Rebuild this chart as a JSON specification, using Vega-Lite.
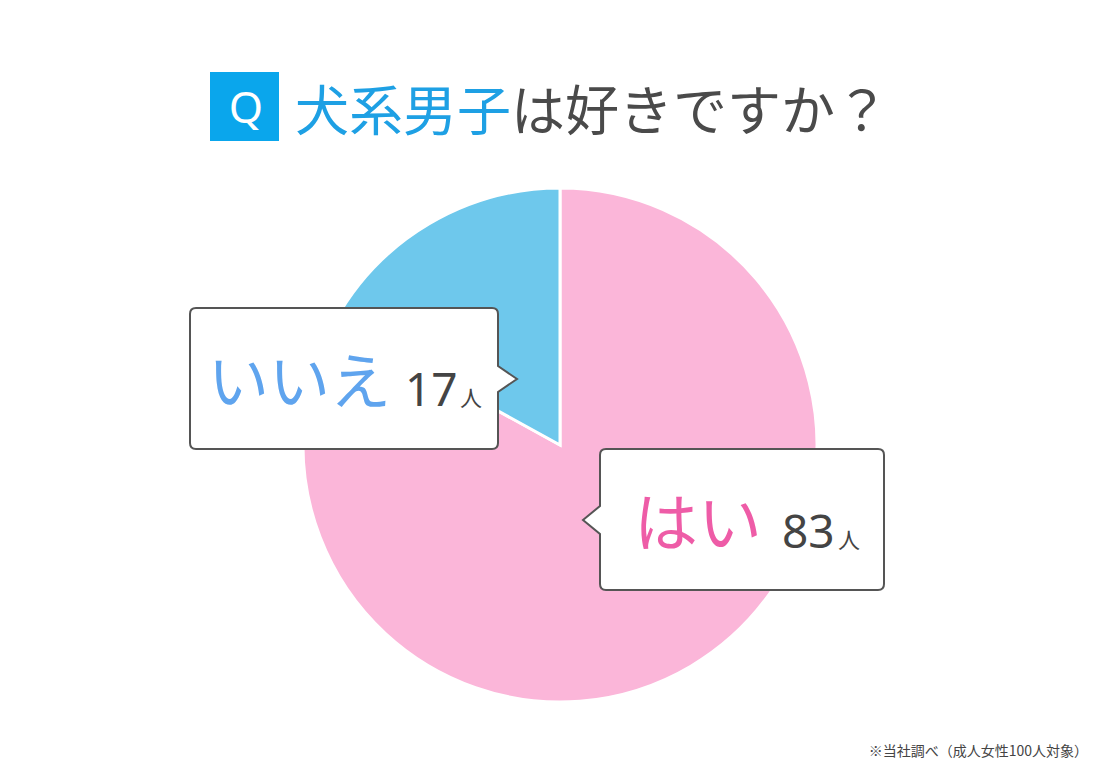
{
  "$schema": "https://vega.github.io/schema/vega-lite/v6.json",
  "width": 1080,
  "height": 514,
  "autosize": "none",
  "padding": {"left": 20, "top": 188, "right": 0, "bottom": 68},
  "background": "white",
  "config": {"view": {"stroke": null}, "font": "Noto Sans CJK JP"},
  "datasets": {
    "answers": [
      {"answer": "はい", "count": 83, "unit": "人"},
      {"answer": "いいえ", "count": 17, "unit": "人"}
    ],
    "heading": [
      {"q": "Q", "topic": "犬系男子", "question": "は好きですか？", "note": "※当社調べ（成人女性100人対象）"}
    ]
  },
  "data": {"name": "answers"},
  "layer": [
    {
      "mark": {"type": "arc", "outerRadius": 257, "stroke": "white", "strokeWidth": 3},
      "encoding": {
        "theta": {"field": "count", "type": "quantitative", "stack": true},
        "order": {"field": "count", "sort": "descending"},
        "color": {
          "field": "answer",
          "type": "nominal",
          "scale": {"domain": ["はい", "いいえ"], "range": ["#fbb6d9", "#6ec8ec"]},
          "legend": null
        }
      }
    },
    {
      "transform": [{"filter": "datum.answer === 'いいえ'"}],
      "mark": {
        "type": "point",
        "shape": "M -3.64,-1.37 L -0.68,-1.37 Q -0.62,-1.37 -0.62,-1.31 L -0.62,-0.79 L -0.43,-0.66 L -0.62,-0.53 L -0.62,-0.02 Q -0.62,0.04 -0.68,0.04 L -3.64,0.04 Q -3.70,0.04 -3.70,-0.02 L -3.70,-1.31 Q -3.70,-1.37 -3.64,-1.37 Z",
        "size": 40000,
        "filled": true,
        "fill": "white",
        "stroke": "#555555",
        "strokeWidth": 2,
        "opacity": 1
      },
      "encoding": {}
    },
    {
      "transform": [{"filter": "datum.answer === 'はい'"}],
      "mark": {
        "type": "point",
        "shape": "M 0.46,0.04 L 3.18,0.04 Q 3.24,0.04 3.24,0.10 L 3.24,1.39 Q 3.24,1.45 3.18,1.45 L 0.46,1.45 Q 0.40,1.45 0.40,1.39 L 0.40,0.89 L 0.23,0.75 L 0.40,0.61 L 0.40,0.10 Q 0.40,0.04 0.46,0.04 Z",
        "size": 40000,
        "filled": true,
        "fill": "white",
        "stroke": "#555555",
        "strokeWidth": 2,
        "opacity": 1
      },
      "encoding": {}
    },
    {
      "transform": [{"filter": "datum.answer === 'いいえ'"}],
      "mark": {"type": "text", "align": "left", "baseline": "alphabetic", "dx": -352, "dy": -41, "fontSize": 61, "color": "#5fa4ee", "font": "Noto Sans CJK JP"},
      "encoding": {"text": {"field": "answer"}}
    },
    {
      "transform": [{"filter": "datum.answer === 'いいえ'"}],
      "mark": {"type": "text", "align": "left", "baseline": "alphabetic", "dx": -155, "dy": -39, "fontSize": 46, "color": "#444444", "font": "Noto Sans"},
      "encoding": {"text": {"field": "count"}}
    },
    {
      "transform": [{"filter": "datum.answer === 'いいえ'"}],
      "mark": {"type": "text", "align": "left", "baseline": "alphabetic", "dx": -100, "dy": -39, "fontSize": 22, "color": "#444444", "font": "Noto Sans CJK JP"},
      "encoding": {"text": {"field": "unit"}}
    },
    {
      "transform": [{"filter": "datum.answer === 'はい'"}],
      "mark": {"type": "text", "align": "left", "baseline": "alphabetic", "dx": 74, "dy": 101, "fontSize": 64, "color": "#ee5ca7", "font": "Noto Sans CJK JP"},
      "encoding": {"text": {"field": "answer"}}
    },
    {
      "transform": [{"filter": "datum.answer === 'はい'"}],
      "mark": {"type": "text", "align": "left", "baseline": "alphabetic", "dx": 222, "dy": 103, "fontSize": 46, "color": "#444444", "font": "Noto Sans"},
      "encoding": {"text": {"field": "count"}}
    },
    {
      "transform": [{"filter": "datum.answer === 'はい'"}],
      "mark": {"type": "text", "align": "left", "baseline": "alphabetic", "dx": 278, "dy": 103, "fontSize": 22, "color": "#444444", "font": "Noto Sans CJK JP"},
      "encoding": {"text": {"field": "unit"}}
    },
    {
      "data": {"name": "heading"},
      "mark": {
        "type": "point",
        "shape": "M -3.50,-3.73 L -2.81,-3.73 L -2.81,-3.04 L -3.50,-3.04 Z",
        "size": 40000,
        "filled": true,
        "fill": "#0aa6ec",
        "strokeWidth": 0,
        "opacity": 1
      },
      "encoding": {}
    },
    {
      "data": {"name": "heading"},
      "mark": {"type": "text", "align": "center", "baseline": "alphabetic", "dx": -314, "dy": -322, "fontSize": 44, "color": "white", "font": "Noto Sans"},
      "encoding": {"text": {"field": "q"}}
    },
    {
      "data": {"name": "heading"},
      "mark": {"type": "text", "align": "left", "baseline": "alphabetic", "dx": -265, "dy": -314, "fontSize": 54, "color": "#1ea0e4", "font": "Noto Sans CJK JP"},
      "encoding": {"text": {"field": "topic"}}
    },
    {
      "data": {"name": "heading"},
      "mark": {"type": "text", "align": "left", "baseline": "alphabetic", "dx": -49, "dy": -314, "fontSize": 54, "color": "#4a4a4a", "font": "Noto Sans CJK JP"},
      "encoding": {"text": {"field": "question"}}
    },
    {
      "data": {"name": "heading"},
      "mark": {"type": "text", "align": "right", "baseline": "alphabetic", "dx": 528, "dy": 311, "fontSize": 14, "color": "#444444", "font": "Noto Sans CJK JP"},
      "encoding": {"text": {"field": "note"}}
    }
  ]
}
